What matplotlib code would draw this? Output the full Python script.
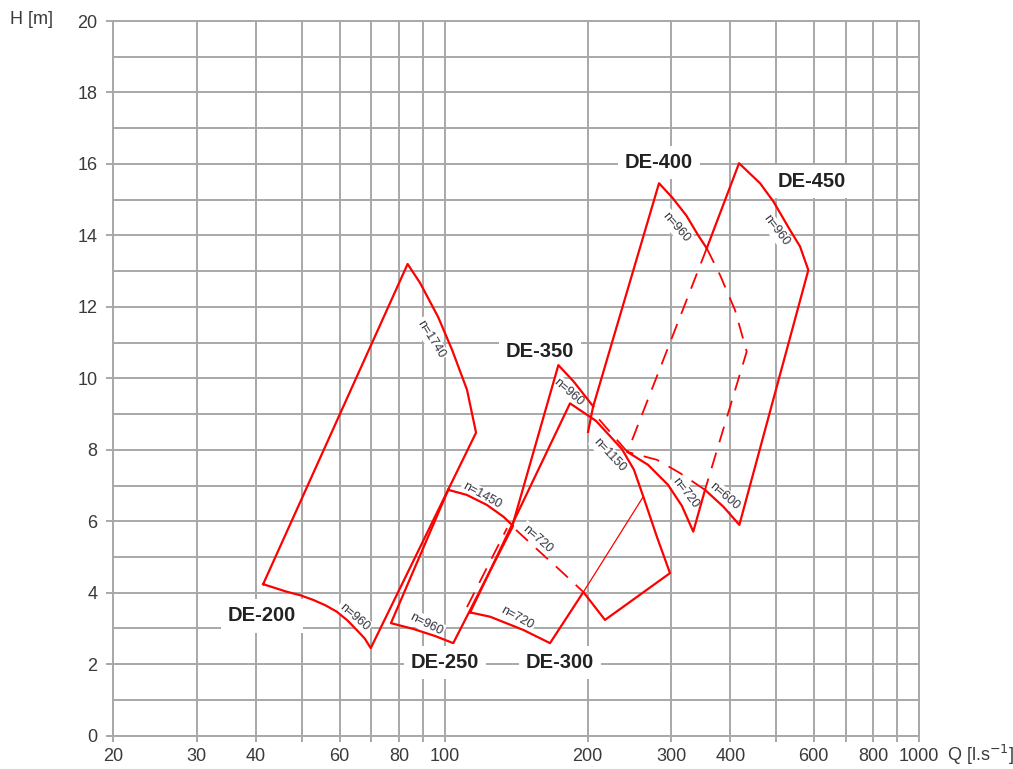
import matplotlib.pyplot as plt
from matplotlib.ticker import FixedLocator, FixedFormatter, NullLocator

plt.rcParams['font.family'] = ['Liberation Sans', 'DejaVu Sans']

# axes grid and tick labels
q_grid = [20, 30, 40, 50, 60, 70, 80, 90, 100, 200, 300, 400, 500, 600, 700, 800, 900, 1000]
q_labels = ["20", "30", "40", "", "60", "", "80", "", "100", "200", "300", "400", "", "600", "", "800", "", "1000"]
h_major = list(range(0, 21, 2))
h_minor = list(range(1, 20, 2))

# pump ranges, Q [l/s] and H [m]
de200_q = [41.4, 83.5, 88.7, 96.8, 103.6, 111.4, 116.4, 69.8, 67.8, 65.2, 62.3, 59.2, 56.0, 52.8, 49.6, 46.4, 41.4]
de200_h = [4.24, 13.20, 12.67, 11.72, 10.80, 9.68, 8.48, 2.45, 2.72, 2.96, 3.23, 3.47, 3.65, 3.80, 3.93, 4.03, 4.24]

de250_q = [101.7, 111.2, 122.6, 132.9, 139.3, 104.2, 95.4, 85.7, 77.0, 101.7]
de250_h = [6.88, 6.74, 6.46, 6.13, 5.87, 2.59, 2.79, 2.99, 3.15, 6.88]

de300_q = [113.1, 183.7, 208.4, 236.4, 250.6, 262.2, 280.2, 298.5, 217.7, 196.0, 166.7, 146.4, 124.6, 113.1]
de300_h = [3.45, 9.30, 8.81, 8.02, 7.44, 6.69, 5.56, 4.55, 3.24, 4.02, 2.59, 2.96, 3.33, 3.45]
de300_thin_q = [196.0, 262.2]
de300_thin_h = [4.02, 6.69]
de300_dash_q = [111.4, 135.3]
de300_dash_h = [3.60, 5.81]

de350_q = [138.6, 173.6, 187.0, 205.7]
de350_h = [5.84, 10.37, 9.91, 9.21]
de350_dash_q = [141.3, 158.8, 176.7, 196.0]
de350_dash_h = [5.76, 5.14, 4.58, 4.02]

de400_top_q = [200.5, 205.4, 283.0, 302.2, 323.4, 342.0, 356.8]
de400_top_h = [8.50, 9.20, 15.46, 15.05, 14.55, 14.01, 13.64]
de400_dash_q = [356.8, 380.6, 409.3, 433.2, 353.8]
de400_dash_h = [13.64, 12.89, 11.91, 10.75, 6.88]
de400_low_q = [353.8, 334.2, 316.3, 295.6, 268.3, 242.8]
de400_low_h = [6.88, 5.71, 6.43, 7.02, 7.58, 7.94]
de400_low_dash_q = [242.8, 223.1, 207.4]
de400_low_dash_h = [7.94, 8.50, 8.98]

de450_q = [356.8, 417.4, 462.2, 493.1, 534.6, 561.2, 584.3, 418.0, 386.7, 353.8]
de450_h = [13.64, 16.02, 15.46, 14.95, 14.15, 13.69, 13.03, 5.90, 6.41, 6.88]
de450_left_dash_q = [356.8, 242.8]
de450_left_dash_h = [13.64, 7.94]
de450_low_dash_q = [353.8, 313.3, 280.2, 242.8]
de450_low_dash_h = [6.88, 7.35, 7.72, 7.94]

# model names
de_names = ["DE-200", "DE-250", "DE-300", "DE-350", "DE-400", "DE-450"]
de_q = [41.2, 100.1, 175.0, 158.8, 283.0, 594.9]
de_h = [3.35, 2.06, 2.06, 10.74, 16.03, 15.50]

# speed labels
n_text = ["n=1740", "n=960", "n=960", "n=1450", "n=720", "n=720",
          "n=960", "n=1150", "n=720", "n=600", "n=960", "n=960"]
n_q = [93.5, 64.4, 91.3, 119.8, 156.5, 142.0, 181.9, 222.0, 321.8, 388.0, 307.3, 499.6]
n_h = [11.10, 3.32, 3.13, 6.71, 5.51, 3.29, 9.62, 7.86, 6.79, 6.71, 14.24, 14.13]
n_rot = [-58, -41, -27, -29, -41, -29, -41, -47, -52, -41, -49, -53]

grid_c = "#a8a8a8"
txt_c = "#3a3a3a"
red = "#ff0000"

fig = plt.figure(figsize=(10.13, 7.69), dpi=100)
ax = fig.add_axes([113.3 / 1013, 1 - 735.7 / 769, (919 - 113.3) / 1013, (735.7 - 21) / 769])
ax.set_xscale("log")
ax.set_xlim(20, 1000)
ax.set_ylim(0, 20)

ax.xaxis.set_major_locator(FixedLocator(q_grid))
ax.xaxis.set_major_formatter(FixedFormatter(q_labels))
ax.xaxis.set_minor_locator(NullLocator())
ax.yaxis.set_major_locator(FixedLocator(h_major))
ax.yaxis.set_minor_locator(FixedLocator(h_minor))

ax.set_axisbelow(True)
ax.grid(True, which="both", color=grid_c, lw=1.4)
for s in ax.spines.values():
    s.set_color(grid_c)
    s.set_linewidth(1.4)

ax.tick_params(axis="x", which="major", length=4.5, width=1.4, color=grid_c,
               pad=4.5, labelsize=13, labelcolor=txt_c)
ax.tick_params(axis="y", which="major", length=5, width=1.4, color=grid_c,
               pad=6.5, labelsize=13, labelcolor=txt_c)
ax.tick_params(axis="y", which="minor", length=0)

fig.text(31 / 1013, 1 - 20 / 769, "H [m]", ha="center", va="center", fontsize=13, color=txt_c)
fig.text(981 / 1013, 1 - 755 / 769, "Q [l.s$^{-1}$]", ha="center", va="center", fontsize=13, color=txt_c)

# solid outlines
for q, h in [(de200_q, de200_h), (de250_q, de250_h), (de300_q, de300_h), (de350_q, de350_h),
             (de400_top_q, de400_top_h), (de400_low_q, de400_low_h), (de450_q, de450_h)]:
    ax.plot(q, h, color=red, lw=1.6, zorder=5)

ax.plot(de300_thin_q, de300_thin_h, color=red, lw=0.9, zorder=5)

# dashed parts
for q, h in [(de300_dash_q, de300_dash_h), (de350_dash_q, de350_dash_h), (de400_dash_q, de400_dash_h),
             (de400_low_dash_q, de400_low_dash_h), (de450_left_dash_q, de450_left_dash_h),
             (de450_low_dash_q, de450_low_dash_h)]:
    ax.plot(q, h, color=red, lw=1.3, ls=(0, (9, 6)), zorder=5)

for name, q, h in zip(de_names, de_q, de_h):
    ax.text(q, h, name, ha="center", va="center", fontsize=14.5, fontweight="bold", color="#222222",
            zorder=3, bbox=dict(boxstyle="square,pad=0.35", facecolor="white", edgecolor="none"))

for t, q, h, r in zip(n_text, n_q, n_h, n_rot):
    ax.text(q, h, t, ha="center", va="center", rotation=r, rotation_mode="anchor", fontsize=9,
            color="#333340", zorder=3,
            bbox=dict(boxstyle="square,pad=0.15", facecolor="white", edgecolor="none"))

fig.savefig("out.png", dpi=100)
